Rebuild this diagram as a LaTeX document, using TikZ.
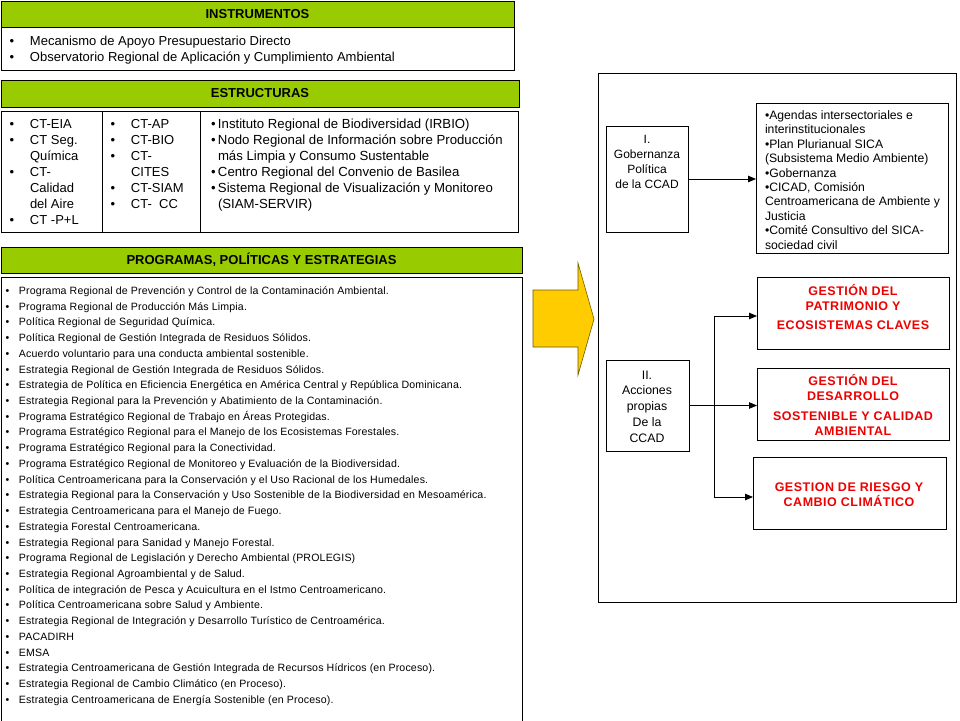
\documentclass[tikz,border=0pt]{standalone}
\usepackage{fontspec}
\setmainfont{Liberation Sans}
\newfontfamily\listfont[LetterSpace=1.5]{Liberation Sans}
\newfontfamily\redfont[LetterSpace=4]{Liberation Sans}
\usetikzlibrary{arrows.meta}
\definecolor{hdrgreen}{RGB}{153,204,0}
\definecolor{arrowyellow}{RGB}{255,204,0}
\definecolor{arrowedge}{RGB}{110,90,0}
\definecolor{redtxt}{RGB}{238,0,0}
\newcommand{\fsz}[2]{\fontsize{#1}{#2}\selectfont}
\newcommand{\bulA}{\makebox[20.5pt][l]{\textbullet}}
\newcommand{\bulB}{\makebox[7pt][l]{\textbullet}}
\newcommand{\bulL}{\makebox[13.5pt][l]{\textbullet}}
\begin{document}
\begin{tikzpicture}[x=1pt,y=-1pt,
  frame/.style={draw=black, line width=0.8pt, inner sep=0pt, outer sep=0pt, anchor=north west},
  hdr/.style={frame, fill=hdrgreen, font=\fsz{13}{15}\bfseries},
  txt/.style={anchor=base west, inner sep=0pt, outer sep=0pt},
  ctxt/.style={anchor=base, inner sep=0pt, outer sep=0pt},
  conn/.style={draw=black, line width=0.8pt},
  tip/.style={conn, -{Triangle[length=8pt,width=6.5pt]}}
]
\useasboundingbox (0,0) rectangle (960,720);
\fill[white] (0,0) rectangle (960,720);

% ---------- INSTRUMENTOS ----------
\node[hdr, minimum width=513pt, minimum height=26pt] (insth) at (1,1) {INSTRUMENTOS};
\node[frame, minimum width=513pt, minimum height=43pt] (instb) at (1,27) {};
\node[txt, font=\fsz{13}{16}] (i1) at (9.5,45) {\bulA Mecanismo de Apoyo Presupuestario Directo};
\node[txt, font=\fsz{13}{16}] (i2) at (9.5,61) {\bulA Observatorio Regional de Aplicación y Cumplimiento Ambiental};

% ---------- ESTRUCTURAS ----------
\node[hdr, minimum width=518pt, minimum height=27pt] (esth) at (1,80) {ESTRUCTURAS};
\node[frame, minimum width=101pt, minimum height=121pt] (col1) at (1,111) {};
\node[frame, minimum width=98pt, minimum height=121pt] (col2) at (102,111) {};
\node[frame, minimum width=318pt, minimum height=121pt] (col3) at (200,111) {};

\foreach \t [count=\i from 0] in {\bulA CT-EIA, \bulA CT Seg., \hspace{20.5pt}Química, \bulA CT-, \hspace{20.5pt}Calidad, \hspace{20.5pt}del Aire, \bulA CT -P+L}
  \node[txt, font=\fsz{13}{16}] (ca\i) at (9.5,128.3+16*\i) {\t};
\foreach \t [count=\i from 0] in {\bulA CT-AP, \bulA CT-BIO, \bulA CT-, \hspace{20.5pt}CITES, \bulA CT-SIAM, \bulA CT-\ \ CC}
  \node[txt, font=\fsz{13}{16}] (cb\i) at (110.5,128.3+16*\i) {\t};
\foreach \t [count=\i from 0] in {\bulB Instituto Regional de Biodiversidad (IRBIO), \bulB Nodo Regional de Información sobre Producción, \hspace{7pt}más Limpia y Consumo Sustentable, \bulB Centro Regional del Convenio de Basilea, \bulB Sistema Regional de Visualización y Monitoreo, \hspace{7pt}(SIAM-SERVIR)}
  \node[txt, font=\fsz{13.2}{16}] (cc\i) at (211,128.3+16*\i) {\t};

% ---------- PROGRAMAS ----------
\node[hdr, minimum width=521pt, minimum height=26pt] (progh) at (1,247) {PROGRAMAS, POLÍTICAS Y ESTRATEGIAS};
\node[frame, minimum width=521pt, minimum height=450pt] (progb) at (1,277) {};
\foreach \t [count=\i from 0] in {
  Programa Regional de Prevención y Control de la Contaminación Ambiental.,
  Programa Regional de Producción Más Limpia.,
  Política Regional de Seguridad Química.,
  Política Regional de Gestión Integrada de Residuos Sólidos.,
  Acuerdo voluntario para una conducta ambiental sostenible.,
  Estrategia Regional de Gestión Integrada de Residuos Sólidos.,
  Estrategia de Política en Eficiencia Energética en América Central y República Dominicana.,
  Estrategia Regional para la Prevención y Abatimiento de la Contaminación.,
  Programa Estratégico Regional de Trabajo en Áreas Protegidas.,
  Programa Estratégico Regional para el Manejo de los Ecosistemas Forestales.,
  Programa Estratégico Regional para la Conectividad.,
  Programa Estratégico Regional de Monitoreo y Evaluación de la Biodiversidad.,
  Política Centroamericana para la Conservación y el Uso Racional de los Humedales.,
  Estrategia Regional para la Conservación y Uso Sostenible de la Biodiversidad en Mesoamérica.,
  Estrategia Centroamericana para el Manejo de Fuego.,
  Estrategia Forestal Centroamericana.,
  Estrategia Regional para Sanidad y Manejo Forestal.,
  Programa Regional de Legislación y Derecho Ambiental (PROLEGIS),
  Estrategia Regional Agroambiental y de Salud.,
  Política de integración de Pesca y Acuicultura en el Istmo Centroamericano.,
  Política Centroamericana sobre Salud y Ambiente.,
  Estrategia Regional de Integración y Desarrollo Turístico de Centroamérica.,
  PACADIRH,
  EMSA,
  Estrategia Centroamericana de Gestión Integrada de Recursos Hídricos (en Proceso).,
  Estrategia Regional de Cambio Climático (en Proceso).,
  Estrategia Centroamericana de Energía Sostenible (en Proceso).}
  \node[txt, font=\listfont\fsz{10.6}{12}] (p\i) at (5.5,294.5+15.72*\i) {\bulL\t};

% ---------- Yellow arrow ----------
\filldraw[fill=arrowyellow, draw=arrowedge, line width=0.6pt]
  (533,290) -- (578,290) -- (578,263) -- (594,319) -- (578,375) -- (578,347) -- (533,347) -- cycle;

% ---------- Right panel ----------
\node[frame, minimum width=358pt, minimum height=529pt] (panel) at (598,73) {};

\node[frame, minimum width=82pt, minimum height=106pt] (gob) at (606,126) {};
\node[ctxt, font=\fsz{12}{15}] (gob1) at (647,143) {I.};
\node[ctxt, font=\fsz{12}{15}] (gob2) at (647,158) {Gobernanza};
\node[ctxt, font=\fsz{12}{15}] (gob3) at (647,173) {Política};
\node[ctxt, font=\fsz{12}{15}] (gob4) at (647,188) {de la CCAD};

\node[frame, minimum width=192pt, minimum height=150pt] (agenda) at (756,103) {};
\foreach \t [count=\i from 0] in {\textbullet Agendas intersectoriales e, interinstitucionales, \textbullet Plan Plurianual SICA, (Subsistema Medio Ambiente), \textbullet Gobernanza, {\textbullet CICAD, Comisión}, Centroamericana de Ambiente y, Justicia, \textbullet Comité Consultivo del SICA-, sociedad civil}
  \node[txt, font=\fsz{12.2}{14}] (ag\i) at (765,119.5+14.4*\i) {\t};

\draw[tip] (gob.east) -- (gob.east -| agenda.west);

\node[frame, minimum width=83pt, minimum height=91pt] (acc) at (606,360) {};
\foreach \t [count=\i from 0] in {II., Acciones, propias, De la, CCAD}
  \node[ctxt, font=\fsz{12.3}{15}] (ac\i) at (647,379+15.8*\i) {\t};

\node[frame, minimum width=192pt, minimum height=72pt] (g1) at (757,277) {};
\node[frame, minimum width=192pt, minimum height=72pt] (g2) at (757,368) {};
\node[frame, minimum width=193pt, minimum height=72pt] (g3) at (753,457) {};

\node[ctxt, font=\redfont\fsz{12.5}{15}\bfseries, text=redtxt] (g1a) at (853,295) {GESTIÓN DEL};
\node[ctxt, font=\redfont\fsz{12.5}{15}\bfseries, text=redtxt] (g1b) at (853,310.7) {PATRIMONIO Y};
\node[ctxt, font=\redfont\fsz{12.5}{15}\bfseries, text=redtxt] (g1c) at (853,329.3) {ECOSISTEMAS CLAVES};
\node[ctxt, font=\redfont\fsz{12.5}{15}\bfseries, text=redtxt] (g2a) at (853,385) {GESTIÓN DEL};
\node[ctxt, font=\redfont\fsz{12.5}{15}\bfseries, text=redtxt] (g2b) at (853,400.7) {DESARROLLO};
\node[ctxt, font=\redfont\fsz{12.5}{15}\bfseries, text=redtxt] (g2c) at (853,420) {SOSTENIBLE Y CALIDAD};
\node[ctxt, font=\redfont\fsz{12.5}{15}\bfseries, text=redtxt] (g2d) at (853,435.7) {AMBIENTAL};
\node[ctxt, font=\redfont\fsz{12.5}{15}\bfseries, text=redtxt] (g3a) at (849,491) {GESTION DE RIESGO Y};
\node[ctxt, font=\redfont\fsz{12.5}{15}\bfseries, text=redtxt] (g3b) at (849,506.7) {CAMBIO CLIMÁTICO};

\coordinate (jt) at (714,316);
\coordinate (jb) at (714,497);
\draw[conn] (jt) -- (jb);
\draw[tip] (acc.east) -- (acc.east -| g2.west);
\draw[tip] (jt) -- (jt -| g1.west);
\draw[tip] (jb) -- (jb -| g3.west);
\end{tikzpicture}
\end{document}
